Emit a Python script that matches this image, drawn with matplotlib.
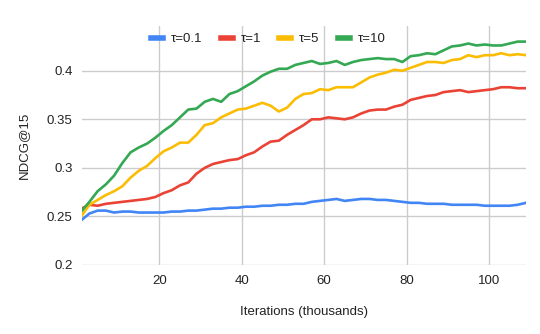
import matplotlib.pyplot as plt

plt.rcParams['font.family'] = ['Liberation Sans', 'DejaVu Sans']

# iterations in thousands
iters = [1, 3, 5, 7, 9, 11, 13, 15, 17, 19, 21, 23, 25, 27, 29, 31, 33, 35, 37, 39,
         41, 43, 45, 47, 49, 51, 53, 55, 57, 59, 61, 63, 65, 67, 69, 71, 73, 75, 77, 79,
         81, 83, 85, 87, 89, 91, 93, 95, 97, 99, 101, 103, 105, 107, 109]

tau_01 = [0.246, 0.253, 0.256, 0.256, 0.254, 0.255, 0.255, 0.254, 0.254, 0.254,
          0.254, 0.255, 0.255, 0.256, 0.256, 0.257, 0.258, 0.258, 0.259, 0.259,
          0.260, 0.260, 0.261, 0.261, 0.262, 0.262, 0.263, 0.263, 0.265, 0.266,
          0.267, 0.268, 0.266, 0.267, 0.268, 0.268, 0.267, 0.267, 0.266, 0.265,
          0.264, 0.264, 0.263, 0.263, 0.263, 0.262, 0.262, 0.262, 0.262, 0.261,
          0.261, 0.261, 0.261, 0.262, 0.264]

tau_1 = [0.258, 0.262, 0.261, 0.263, 0.264, 0.265, 0.266, 0.267, 0.268, 0.270,
         0.274, 0.277, 0.282, 0.285, 0.294, 0.300, 0.304, 0.306, 0.308, 0.309,
         0.313, 0.316, 0.322, 0.327, 0.328, 0.334, 0.339, 0.344, 0.350, 0.350,
         0.352, 0.351, 0.350, 0.352, 0.356, 0.359, 0.360, 0.360, 0.363, 0.365,
         0.370, 0.372, 0.374, 0.375, 0.378, 0.379, 0.380, 0.378, 0.379, 0.380,
         0.381, 0.383, 0.383, 0.382, 0.382]

tau_5 = [0.250, 0.262, 0.267, 0.272, 0.276, 0.281, 0.290, 0.297, 0.302, 0.310,
         0.317, 0.321, 0.326, 0.326, 0.334, 0.344, 0.346, 0.352, 0.356, 0.360,
         0.361, 0.364, 0.367, 0.364, 0.358, 0.362, 0.371, 0.376, 0.377, 0.381,
         0.380, 0.383, 0.383, 0.383, 0.388, 0.393, 0.396, 0.398, 0.401, 0.400,
         0.403, 0.406, 0.409, 0.409, 0.408, 0.411, 0.412, 0.416, 0.414, 0.416,
         0.416, 0.418, 0.416, 0.417, 0.416]

tau_10 = [0.255, 0.265, 0.276, 0.283, 0.292, 0.305, 0.316, 0.321, 0.325, 0.331,
          0.338, 0.344, 0.352, 0.360, 0.361, 0.368, 0.371, 0.368, 0.376, 0.379,
          0.384, 0.389, 0.395, 0.399, 0.402, 0.402, 0.406, 0.408, 0.410, 0.407,
          0.408, 0.410, 0.406, 0.409, 0.411, 0.412, 0.413, 0.412, 0.412, 0.409,
          0.415, 0.416, 0.418, 0.417, 0.421, 0.425, 0.426, 0.428, 0.426, 0.427,
          0.426, 0.426, 0.428, 0.430, 0.430]

series = [
    ('τ=0.1', tau_01, '#4285F4'),
    ('τ=1', tau_1, '#EA4335'),
    ('τ=5', tau_5, '#FBBC04'),
    ('τ=10', tau_10, '#34A853'),
]

fig = plt.figure(figsize=(5.4, 3.34), dpi=100)
ax = fig.add_axes([0.1526, 0.2066, 0.8214, 0.7154])

for name, vals, col in series:
    ax.plot(iters, vals, color=col, lw=1.9, label=name, solid_joinstyle='round')

ax.set_xlim(1.3, 109)
ax.set_ylim(0.2, 0.446)
ax.set_xticks([20, 40, 60, 80, 100])
ax.set_yticks([0.2, 0.25, 0.3, 0.35, 0.4])
ax.set_yticklabels(['0.2', '0.25', '0.3', '0.35', '0.4'])
ax.grid(True, color='#cccccc', lw=1)
ax.set_axisbelow(True)
for s in ax.spines.values():
    s.set_visible(False)
ax.tick_params(length=0, labelsize=9.5, colors='#222222')
ax.tick_params(axis='y', pad=7)
ax.tick_params(axis='x', pad=7)

ax.set_xlabel('Iterations (thousands)', fontsize=9.5, color='#222222', labelpad=14)
ax.set_ylabel('NDCG@15', fontsize=9.5, color='#222222', labelpad=12)

leg = fig.legend(loc='center', bbox_to_anchor=(0.497, 0.883), ncol=4, frameon=False,
                 fontsize=9.5, handlelength=0.9, columnspacing=1.4, handletextpad=0.6)
for h in leg.get_lines():
    h.set_linewidth(4)
for t in leg.get_texts():
    t.set_color('#222222')

fig.savefig('out.png', dpi=100)
